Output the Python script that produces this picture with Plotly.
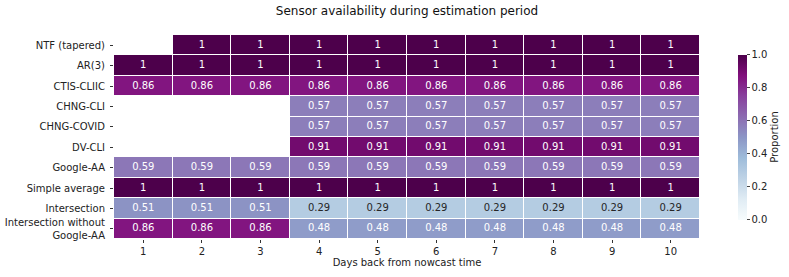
import plotly.graph_objects as go

days = [1, 2, 3, 4, 5, 6, 7, 8, 9, 10]
sensors = ["NTF (tapered)", "AR(3)", "CTIS-CLIIC", "CHNG-CLI", "CHNG-COVID", "DV-CLI",
           "Google-AA", "Simple average", "Intersection", "Intersection without<br>Google-AA"]
N = None
ntf = [N, 1, 1, 1, 1, 1, 1, 1, 1, 1]
ar3 = [1, 1, 1, 1, 1, 1, 1, 1, 1, 1]
ctis = [0.86] * 10
chng_cli = [N, N, N, 0.57, 0.57, 0.57, 0.57, 0.57, 0.57, 0.57]
chng_covid = [N, N, N, 0.57, 0.57, 0.57, 0.57, 0.57, 0.57, 0.57]
dv_cli = [N, N, N, 0.91, 0.91, 0.91, 0.91, 0.91, 0.91, 0.91]
google_aa = [0.59] * 10
simple_avg = [1] * 10
intersection = [0.51, 0.51, 0.51, 0.29, 0.29, 0.29, 0.29, 0.29, 0.29, 0.29]
inter_no_g = [0.86, 0.86, 0.86, 0.48, 0.48, 0.48, 0.48, 0.48, 0.48, 0.48]

z = [ntf, ar3, ctis, chng_cli, chng_covid, dv_cli, google_aa, simple_avg, intersection, inter_no_g]

FONT = "DejaVu Sans"
FS = 10

fig = go.Figure()
fig.add_trace(go.Heatmap(
    x=days, y=sensors, z=z, zmin=0, zmax=1, colorscale="BuPu",
    xgap=1, ygap=1, hoverongaps=False,
    colorbar=dict(
        x=1.065, xanchor="left", y=0.5, yanchor="middle", len=0.81, thickness=9,
        xpad=0, ypad=0,
        outlinewidth=0, ticks="outside", ticklen=3, tickvals=[0, 0.2, 0.4, 0.6, 0.8, 1.0],
        ticktext=["0.0", "0.2", "0.4", "0.6", "0.8", "1.0"],
        tickfont=dict(family=FONT, size=FS, color="#222"),
        title=dict(text="Proportion", side="right", font=dict(family=FONT, size=FS, color="#222")),
    ),
))

tx, ty, tt, tc = [], [], [], []
for r, row in enumerate(z):
    for c, v in enumerate(row):
        if v is None:
            continue
        tx.append(days[c])
        ty.append(sensors[r])
        tt.append(f"{v:.2g}")
        tc.append("#262626" if v < 0.4 else "white")
fig.add_trace(go.Scatter(x=tx, y=ty, mode="text", text=tt,
                         textfont=dict(family=FONT, size=FS, color=tc),
                         hoverinfo="skip", showlegend=False))

fig.update_layout(
    width=789, height=277,
    margin=dict(l=114, r=89, t=35, b=38, autoexpand=False),
    paper_bgcolor="white", plot_bgcolor="white",
    title=dict(text="Sensor availability during estimation period", x=407 / 789, xanchor="center",
               y=0.975, yanchor="top", font=dict(family=FONT, size=12, color="#111")),
    font=dict(family=FONT, size=FS, color="#222"),
    showlegend=False,
)
fig.update_xaxes(
    tickvals=days, ticks="outside", ticklen=3, tickcolor="#333", showgrid=False, zeroline=False,
    range=[0.5, 10.5], tickfont=dict(family=FONT, size=FS, color="#222"), automargin=False,
    ticklabelstandoff=0,
    title=dict(text="Days back from nowcast time", font=dict(family=FONT, size=FS, color="#222"),
               standoff=1),
)
fig.update_yaxes(
    range=[len(sensors) - 0.5, -0.5], ticks="outside", ticklen=3, tickcolor="#333", showgrid=False,
    zeroline=False, tickfont=dict(family=FONT, size=FS, color="#222"), automargin=False,
    ticklabelstandoff=3,
)

fig.write_html("out.html", config={"displayModeBar": False},
               post_script="document.body.style.margin='0';")
